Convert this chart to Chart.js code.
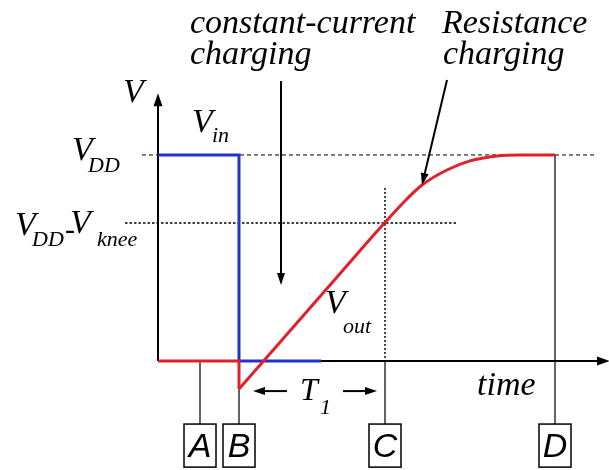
<!DOCTYPE html>
<html>
<head>
<meta charset="utf-8">
<script src="https://cdn.jsdelivr.net/npm/chart.js@4"></script>
<style>
  html, body { margin: 0; padding: 0; background: #fff; }
  #chart { display: block; }
</style>
</head>
<body>
<canvas id="chart" width="609" height="470"></canvas>
<script>
// time axis in arbitrary units, voltage normalised so VDD = 1
const VDD = 1.0;
const V_KNEE_LEVEL = 0.67;

// input step (blue)
const vinT = [0, 0.81, 0.81, 1.63];
const vinV = [VDD, VDD, 0, 0];

// output (red): flat, kick-back at B, then the ramp and the RC tail
const voutStepT = [0, 0.81, 0.81];
const voutStepV = [0, 0, -0.136];
const voutRiseT = [0.81, 1.85, 2.1, 2.27, 2.45, 2.64, 2.89, 3.12, 3.39, 3.62, 3.97];
const voutRiseV = [-0.136, 0.44, 0.58, 0.672, 0.767, 0.854, 0.927, 0.971, 0.995, 1.0, 1.0];

// event markers below the time axis
const markerNames = ['A', 'B', 'C', 'D'];
const markerT = [0.42, 0.81, 2.27, 3.97];
const markerFromV = [0, -0.136, 0, VDD];

const X_MIN = -1.58, X_MAX = 4.51;
const Y_MIN = -0.529, Y_MAX = 1.752;
const BOX_TOP = -0.306, BOX_BOTTOM = -0.515, BOX_HALF = 0.16;

const RED = '#e3202a';
const BLUE = '#2233c8';

const pts = (ts, vs) => ts.map((t, i) => ({ x: t, y: vs[i] }));

function lineSet(data, color, width, dash, order, extra) {
    return Object.assign({
        data: data,
        borderColor: color,
        borderWidth: width,
        borderDash: dash || [],
        pointRadius: 0,
        fill: false,
        tension: 0,
        order: order
    }, extra || {});
}

const datasets = [
    // axes
    lineSet([{ x: 0, y: 0 }, { x: 4.46, y: 0 }], '#000', 2, null, 10),
    lineSet([{ x: 0, y: 0 }, { x: 0, y: 1.25 }], '#000', 2, null, 10),
    // reference levels
    lineSet([{ x: -0.16, y: VDD }, { x: 4.39, y: VDD }], '#000', 1, [4, 3], 9),
    lineSet([{ x: -0.33, y: V_KNEE_LEVEL }, { x: 3.0, y: V_KNEE_LEVEL }], '#000', 1.5, [2.5, 2], 9),
    lineSet([{ x: markerT[2], y: 0.84 }, { x: markerT[2], y: 0 }], '#000', 1.5, [2, 2], 9),
    // signals
    lineSet(pts(vinT, vinV), BLUE, 3, null, 2),
    lineSet(pts(voutStepT, voutStepV), RED, 3, null, 1),
    lineSet(pts(voutRiseT, voutRiseV), RED, 3, null, 1, { cubicInterpolationMode: 'monotone' })
];

// marker drop lines
markerT.forEach((t, i) => {
    datasets.push(lineSet([{ x: t, y: markerFromV[i] }, { x: t, y: BOX_TOP }], '#000', 1.2, null, 8));
});

// arrows: [fromT, fromV, toT, toV]
const arrows = [
    [1.23, 1.359, 1.23, 0.369],
    [2.89, 1.364, 2.64, 0.854],
    [1.29, -0.146, 0.95, -0.146],
    [1.85, -0.146, 2.19, -0.146]
];

// text runs: [text, t, v, size]
const labels = [
    ['constant-current', 0.32, 1.592, 34],
    ['charging', 0.32, 1.442, 34],
    ['Resistance', 2.84, 1.592, 34],
    ['charging', 2.85, 1.442, 34],
    ['V', -0.35, 1.257, 34],
    ['V', 0.34, 1.112, 34],
    ['in', 0.54, 1.063, 22],
    ['V', -0.86, 0.976, 34],
    ['DD', -0.70, 0.917, 22],
    ['V', -1.43, 0.612, 34],
    ['DD', -1.26, 0.558, 22],
    ['-', -0.93, 0.59, 30],
    ['V', -0.88, 0.621, 34],
    ['knee', -0.61, 0.558, 22],
    ['V', 1.67, 0.233, 34],
    ['out', 1.85, 0.136, 22],
    ['T', 1.42, -0.189, 32],
    ['1', 1.62, -0.257, 22],
    ['time', 3.19, -0.165, 34]
];

function arrowHead(ctx, x1, y1, x2, y2, len, half) {
    const a = Math.atan2(y2 - y1, x2 - x1);
    ctx.beginPath();
    ctx.moveTo(x2, y2);
    ctx.lineTo(x2 - len * Math.cos(a) + half * Math.sin(a), y2 - len * Math.sin(a) - half * Math.cos(a));
    ctx.lineTo(x2 - len * Math.cos(a) - half * Math.sin(a), y2 - len * Math.sin(a) + half * Math.cos(a));
    ctx.closePath();
    ctx.fill();
}

const diagramPlugin = {
    id: 'diagram',
    afterDatasetsDraw(chart) {
        const ctx = chart.ctx;
        const sx = chart.scales.x, sy = chart.scales.y;
        const px = t => sx.getPixelForValue(t);
        const py = v => sy.getPixelForValue(v);
        ctx.save();
        ctx.strokeStyle = '#000';
        ctx.fillStyle = '#000';

        // axis arrow heads
        arrowHead(ctx, px(0), py(0), px(0), py(1.30), 13, 4.5);
        arrowHead(ctx, px(0), py(0), px(4.52), py(0), 13, 4.5);

        // annotation arrows
        ctx.lineWidth = 2;
        arrows.forEach(a => {
            const x1 = px(a[0]), y1 = py(a[1]), x2 = px(a[2]), y2 = py(a[3]);
            const ang = Math.atan2(y2 - y1, x2 - x1);
            ctx.beginPath();
            ctx.moveTo(x1, y1);
            ctx.lineTo(x2 - 8 * Math.cos(ang), y2 - 8 * Math.sin(ang));
            ctx.stroke();
            arrowHead(ctx, x1, y1, x2, y2, 12, 4);
        });

        // marker boxes
        ctx.lineWidth = 1.5;
        ctx.font = 'italic 34px "Liberation Sans", Arial, sans-serif';
        ctx.textAlign = 'center';
        ctx.textBaseline = 'middle';
        markerT.forEach((t, i) => {
            const l = px(t - BOX_HALF), r = px(t + BOX_HALF);
            const top = py(BOX_TOP), bot = py(BOX_BOTTOM);
            ctx.strokeRect(l, top, r - l, bot - top);
            ctx.fillText(markerNames[i], (l + r) / 2, (top + bot) / 2 + 2);
        });

        // text
        ctx.textAlign = 'left';
        ctx.textBaseline = 'alphabetic';
        labels.forEach(l => {
            ctx.font = 'italic ' + l[3] + 'px "Liberation Serif", "Times New Roman", serif';
            ctx.fillText(l[0], px(l[1]), py(l[2]));
        });
        ctx.restore();
    }
};

new Chart(document.getElementById('chart'), {
    type: 'line',
    data: { datasets: datasets },
    options: {
        responsive: false,
        animation: false,
        parsing: true,
        layout: { padding: 0 },
        plugins: {
            legend: { display: false },
            tooltip: { enabled: false }
        },
        scales: {
            x: { type: 'linear', min: X_MIN, max: X_MAX, display: false },
            y: { type: 'linear', min: Y_MIN, max: Y_MAX, display: false }
        }
    },
    plugins: [diagramPlugin]
});
</script>
</body>
</html>
